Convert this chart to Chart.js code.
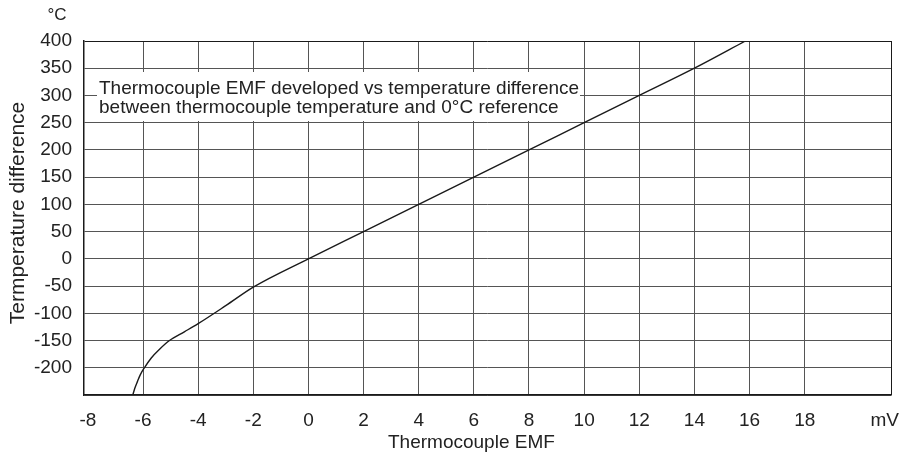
<!DOCTYPE html>
<html>
<head>
<meta charset="utf-8">
<script src="https://cdn.jsdelivr.net/npm/chart.js@4/dist/chart.umd.min.js"></script>
<style>
html,body{margin:0;padding:0;background:#fff;}
#wrap{width:905px;height:462px;position:relative;}
</style>
</head>
<body>
<div id="wrap"><canvas id="c" width="905" height="462"></canvas></div>
<script>
// Data
const emfMilliVolts = [-6.37, -6.3, -6.2, -6.1, -5.95, -5.7, -5.4, -5.04, -4.5, -4.0, -3.0, -2.0, 0, 2, 4, 6, 8, 10, 12, 14, 15.85];
const tempDifference = [-250, -238, -225, -213, -200, -182, -166, -150, -134, -119, -86, -52, 0, 50, 100, 150, 200, 250, 300, 350, 400];
const xTickValues = [-8, -6, -4, -2, 0, 2, 4, 6, 8, 10, 12, 14, 16, 18];
const xUnitLabel = 'mV';
const yUnitLabel = '°C';
const xAxisTitle = 'Thermocouple EMF';
const yAxisTitle = 'Termperature difference';
const noteLines = ['Thermocouple EMF developed vs temperature difference', 'between thermocouple temperature and 0°C reference'];

const FONT = '"Liberation Sans", Arial, Helvetica, sans-serif';
const X_MIN = -8.14, X_MAX = 21.13, X_UNIT_POS = 20.9;
const Y_MIN = -250, Y_MAX = 400;

const points = emfMilliVolts.map((x, i) => ({x: x, y: tempDifference[i]}));

const extras = {
  id: 'extras',
  beforeDatasetsDraw(chart) {
    const ctx = chart.ctx, a = chart.chartArea;
    ctx.save();
    ctx.fillStyle = '#fff';
    ctx.fillRect(a.left + 13, a.top + 31, 483, 49);
    ctx.fillStyle = '#222';
    ctx.font = '19px ' + FONT;
    ctx.textAlign = 'left';
    ctx.textBaseline = 'alphabetic';
    ctx.fillText(noteLines[0], a.left + 15, a.top + 53);
    ctx.fillText(noteLines[1], a.left + 15, a.top + 72);
    ctx.restore();
  },
  afterDraw(chart) {
    const ctx = chart.ctx, a = chart.chartArea;
    ctx.save();
    ctx.fillStyle = '#222';
    ctx.font = '17px ' + FONT;
    ctx.textAlign = 'center';
    ctx.textBaseline = 'alphabetic';
    ctx.fillText(yUnitLabel, 57, 20);
    ctx.font = '19px ' + FONT;
    ctx.textAlign = 'left';
    ctx.fillText(xAxisTitle, 388, 448);
    ctx.textAlign = 'center';
    ctx.font = '21px ' + FONT;
    ctx.translate(24, (a.top + a.bottom) / 2 - 5);
    ctx.rotate(-Math.PI / 2);
    ctx.fillText(yAxisTitle, 0, 0);
    ctx.restore();
  }
};

new Chart(document.getElementById('c'), {
  type: 'line',
  data: {
    datasets: [{
      data: points,
      borderColor: '#1a1a1a',
      borderWidth: 1.4,
      pointRadius: 0,
      fill: false,
      cubicInterpolationMode: 'monotone'
    }]
  },
  options: {
    responsive: false,
    animation: false,
    layout: {padding: {top: 41, right: 13, left: 0, bottom: 0}},
    plugins: {legend: {display: false}, tooltip: {enabled: false}},
    scales: {
      x: {
        type: 'linear',
        min: X_MIN, max: X_MAX,
        afterBuildTicks(scale) {
          const t = xTickValues.map(v => ({value: v, first: v === xTickValues[0]}));
          t.push({value: X_UNIT_POS, unit: true});
          t.push({value: X_MAX, edge: true});
          scale.ticks = t;
        },
        afterFit(scale) { scale.height = 67; },
        border: {display: true, color: '#1a1a1a', width: 1.5},
        grid: {
          drawTicks: false,
          lineWidth: 1,
          color(ctx) {
            const t = ctx.tick;
            if (t && (t.unit || t.first)) return 'rgba(0,0,0,0)';
            if (t && t.edge) return '#1a1a1a';
            return '#555';
          }
        },
        ticks: {
          autoSkip: false,
          maxRotation: 0,
          padding: 14,
          color: '#222',
          font: {family: FONT, size: 19},
          callback(value, index, ticks) {
            const t = ticks[index];
            if (t.unit) return xUnitLabel;
            if (t.edge) return '';
            return String(value);
          }
        }
      },
      y: {
        type: 'linear',
        min: Y_MIN, max: Y_MAX,
        afterFit(scale) { scale.width = 84; },
        border: {display: true, color: '#1a1a1a', width: 1.5},
        grid: {
          drawTicks: false,
          lineWidth: 1,
          color(ctx) {
            const t = ctx.tick;
            if (t && t.value === Y_MAX) return '#1a1a1a';
            return '#555';
          }
        },
        ticks: {
          stepSize: 50,
          padding: 12,
          color: '#222',
          font: {family: FONT, size: 19},
          callback(value) { return value === Y_MIN ? '' : String(value); }
        }
      }
    }
  },
  plugins: [extras]
});
</script>
</body>
</html>
